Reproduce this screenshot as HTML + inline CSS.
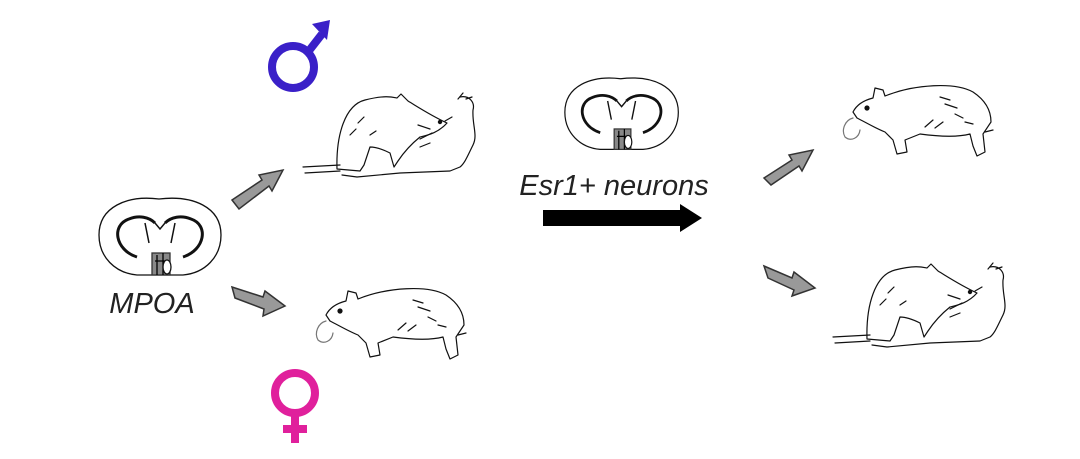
<!DOCTYPE html>
<html><head><meta charset="utf-8"><style>
html,body{margin:0;padding:0;background:#fff;}
svg{display:block}
text{font-family:"Liberation Sans",sans-serif;font-style:italic;}
</style></head><body>
<svg width="1080" height="459" viewBox="0 0 1080 459" xmlns="http://www.w3.org/2000/svg">
<defs>
<g id="brain" fill="none" stroke="#111" stroke-width="1.3">
  <path d="M62,4 C30,0 2,12 2,40 C2,62 18,78 40,80 L86,80 C108,78 124,62 124,40 C124,12 96,0 62,4 Z"/>
  <path d="M40,62 C18,55 14,30 32,24 C42,20 52,22 58,28 M86,62 C108,55 112,30 94,24 C84,20 74,22 68,28" stroke-width="3"/>
  <path d="M48,28 L52,48 M78,28 L74,48 M58,28 L63,34 L68,28" stroke-width="1.5"/>
  <rect x="55" y="58" width="18" height="22" fill="#888" stroke="#333"/>
  <path d="M60,60 L60,80 M66,58 L66,80 M58,66 L72,66" stroke="#000"/>
  <ellipse cx="70" cy="72" rx="4" ry="7" fill="#fff"/>
</g>
<g id="mate" fill="none" stroke="#111" stroke-width="1.2" stroke-linecap="round" stroke-linejoin="round">
  <path d="M3,72 L40,70 M5,78 L40,76"/>
  <path d="M37,74 C36,40 45,10 65,5 C85,0 92,2 97,3 L101,-1 L108,6 C118,12 130,20 147,28 C138,38 128,40 120,42 C110,50 102,60 98,66 L94,72 L90,58 C82,54 75,52 70,52 L64,70 L60,76 Z"/>
  <path d="M160,2 C170,0 175,8 173,15 C172,30 178,40 173,50 C168,60 165,68 160,72 L150,76 L100,78 L57,82 L42,80"/>
  <path d="M50,40 L56,34 M58,28 L64,22 M70,40 L76,36 M120,52 L130,48"/>
  <path d="M130,34 L118,30 M132,38 L120,44 M158,4 L163,-2 M166,4 L172,2 M145,26 L152,22"/>
  <circle cx="140" cy="27" r="1.6" fill="#111"/>
</g>
<g id="pup" fill="none" stroke="#111" stroke-width="1.2" stroke-linecap="round" stroke-linejoin="round">
  <path d="M8,30 C12,22 20,18 28,16 L30,6 L38,8 L40,14 C70,2 110,0 128,10 C140,18 146,28 146,40 L138,52 L140,70 L132,74 L128,64 L125,52 C110,56 90,54 75,52 L60,58 L62,70 L52,72 L48,58 L40,50 C30,46 20,40 12,36 Z"/>
  <circle cx="22" cy="26" r="2" fill="#111"/>
  <path d="M8,36 C0,38 -4,48 0,55 C6,60 14,56 15,48" stroke="#777"/>
  <path d="M95,15 L105,18 M100,22 L112,26 M110,32 L118,36 M120,40 L128,42 M80,45 L88,38 M90,46 L98,40 M140,50 L148,48"/>
</g>
</defs>

<use href="#brain" x="97" y="195"/>
<g transform="translate(563,75) scale(0.93)"><use href="#brain"/></g>

<text x="152" y="313" font-size="29" text-anchor="middle" fill="#222">MPOA</text>
<text x="614" y="195" font-size="29" text-anchor="middle" fill="#222">Esr1+ neurons</text>

<g fill="#999" stroke="#333" stroke-width="1.5">
  <polygon points="232,200 262,180 259,175 283,170 272,191 269,186 239,209"/>
  <polygon points="232,287 263,297 265,291 285,306 263,316 264,309 235,298"/>
  <polygon points="764,178 792,160 789,155 813,150 802,171 799,166 771,185"/>
  <polygon points="764,266 792,278 794,272 815,288 792,296 794,290 768,278"/>
</g>
<polygon points="543,210 680,210 680,204 702,218 680,232 680,226 543,226" fill="#000"/>

<g stroke="#3a20c8" stroke-width="8" fill="none">
  <circle cx="293" cy="67" r="21"/>
  <path d="M308,52 L322,34"/>
</g>
<polygon points="312,24 330,20 327,40" fill="#3a20c8"/>
<g stroke="#e0209c" stroke-width="8" fill="none">
  <circle cx="295" cy="393" r="20"/>
  <path d="M295,413 L295,443 M283,429 L307,429"/>
</g>

<use href="#mate" x="300" y="95"/>
<use href="#mate" x="830" y="265"/>
<use href="#pup" x="845" y="82"/>
<use href="#pup" x="318" y="285"/>
</svg>
</body></html>
